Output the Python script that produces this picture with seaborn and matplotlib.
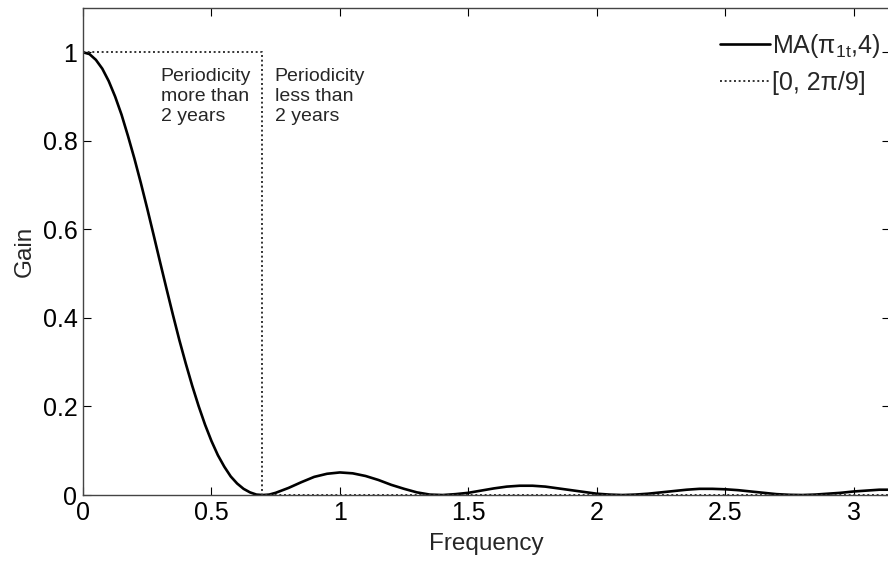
import matplotlib
matplotlib.use('Agg')
import matplotlib.pyplot as plt
import seaborn as sns

# gain of the MA filter
freq = [0.0, 0.025, 0.05, 0.075, 0.1, 0.125, 0.15, 0.175, 0.2, 0.225, 0.25, 0.275,
        0.3, 0.325, 0.35, 0.375, 0.4, 0.425, 0.45, 0.475, 0.5, 0.525, 0.55, 0.575,
        0.6, 0.625, 0.65, 0.675, 0.7, 0.725, 0.75, 0.8, 0.85, 0.9, 0.95, 1.0, 1.05,
        1.1, 1.15, 1.2, 1.25, 1.3, 1.35, 1.4, 1.45, 1.5, 1.55, 1.6, 1.65, 1.7, 1.75,
        1.8, 1.85, 1.9, 1.95, 2.0, 2.05, 2.1, 2.15, 2.2, 2.25, 2.3, 2.35, 2.4, 2.45,
        2.5, 2.55, 2.6, 2.65, 2.7, 2.75, 2.8, 2.85, 2.9, 2.95, 3.0, 3.05, 3.1, 3.1416]
gain = [1.0, 0.996, 0.983, 0.963, 0.935, 0.900, 0.859, 0.811, 0.760, 0.705, 0.647,
        0.587, 0.526, 0.466, 0.407, 0.350, 0.297, 0.247, 0.201, 0.159, 0.122, 0.090,
        0.064, 0.042, 0.026, 0.014, 0.006, 0.001, 0.0, 0.001, 0.005, 0.016, 0.029,
        0.041, 0.048, 0.051, 0.049, 0.043, 0.034, 0.023, 0.014, 0.006, 0.001, 0.0,
        0.002, 0.005, 0.010, 0.015, 0.019, 0.021, 0.021, 0.019, 0.015, 0.011, 0.007,
        0.003, 0.001, 0.0, 0.001, 0.003, 0.006, 0.009, 0.012, 0.014, 0.014, 0.013,
        0.011, 0.008, 0.005, 0.002, 0.0005, 0.0, 0.001, 0.003, 0.005, 0.008, 0.010,
        0.012, 0.012]

# ideal band-pass [0, 2pi/9]
ideal_x = [0.0, 0.698, 0.698, 3.1416]
ideal_y = [1.0, 1.0, 0.0, 0.0]

xticks = [0, 0.5, 1, 1.5, 2, 2.5, 3]
xtick_labels = ['0', '0.5', '1', '1.5', '2', '2.5', '3']
yticks = [0, 0.2, 0.4, 0.6, 0.8, 1]
ytick_labels = ['0', '0.2', '0.4', '0.6', '0.8', '1']

sns.set_style('ticks')
plt.rcParams['font.family'] = ['Liberation Sans', 'DejaVu Sans']
plt.rcParams['mathtext.fontset'] = 'custom'
plt.rcParams['mathtext.rm'] = 'Liberation Sans'
plt.rcParams['mathtext.it'] = 'Liberation Sans'

fig = plt.figure(figsize=(8.88, 5.61), dpi=100)
ax = fig.add_axes([0.0935, 0.1176, 0.9087, 0.8681])

sns.lineplot(x=freq, y=gain, ax=ax, color='black', linewidth=1.9,
             estimator=None, sort=False, label=r'MA($\mathrm{\pi}_{\mathrm{1t}}$,4)')
sns.lineplot(x=ideal_x, y=ideal_y, ax=ax, color='#333333', linewidth=1.4,
             linestyle=(0, (1, 1.4)), estimator=None, sort=False,
             label='[0, 2\u03c0/9]')

ax.set_xlim(0, 3.1416)
ax.set_ylim(0, 1.1)
ax.set_xticks(xticks)
ax.set_xticklabels(xtick_labels)
ax.set_yticks(yticks)
ax.set_yticklabels(ytick_labels)
ax.tick_params(direction='in', top=True, right=True, length=6, width=0.8,
               labelsize=18, pad=4, colors='black')
for s in ax.spines.values():
    s.set_color('#444444')
    s.set_linewidth(1.0)

ax.set_xlabel('Frequency', fontsize=17.5, labelpad=6)
ax.set_ylabel('Gain', fontsize=17.5, labelpad=5)

ax.text(0.302, 0.965, 'Periodicity\nmore than\n2 years', fontsize=14,
        va='top', ha='left', linespacing=1.25)
ax.text(0.746, 0.965, 'Periodicity\nless than\n2 years', fontsize=14,
        va='top', ha='left', linespacing=1.25)

ax.legend(loc='upper right', bbox_to_anchor=(1.006, 0.966), bbox_transform=fig.transFigure,
          frameon=False, fontsize=18, handlelength=2.0, handletextpad=0.1,
          labelspacing=0.45, borderpad=0)

fig.savefig('out.png', dpi=100)
